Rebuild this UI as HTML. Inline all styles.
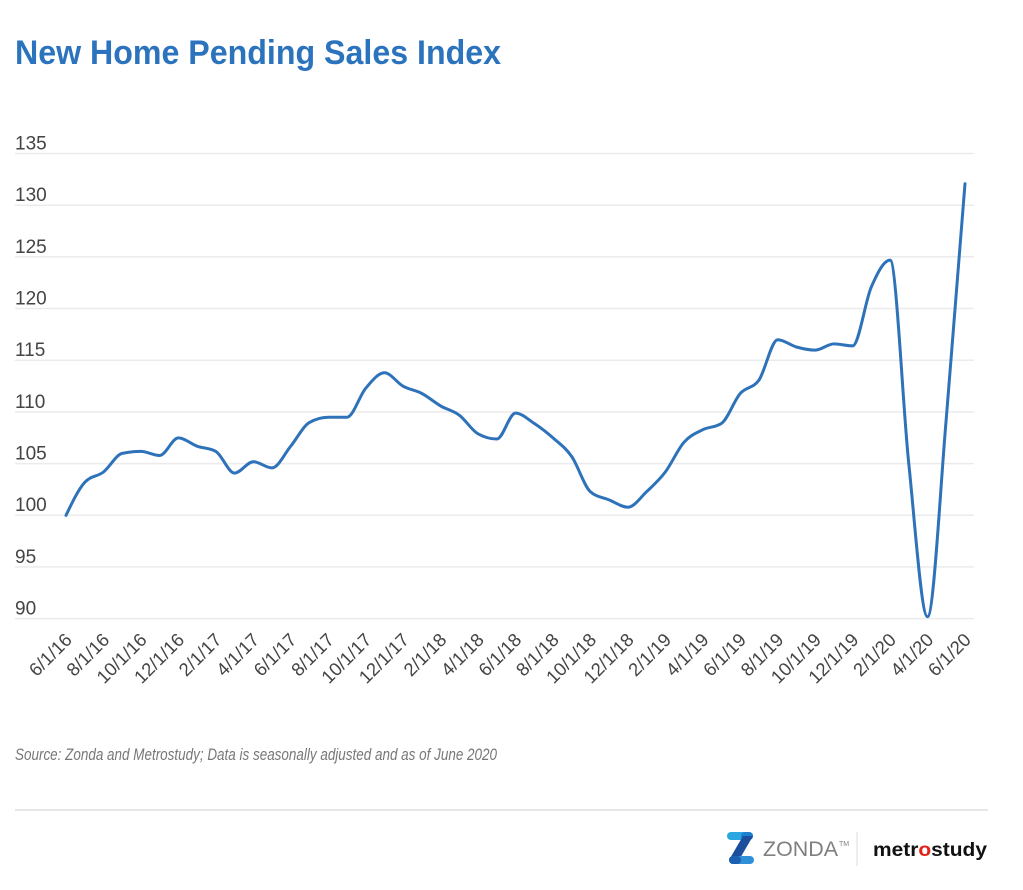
<!DOCTYPE html>
<html>
<head>
<meta charset="utf-8">
<style>
  html, body { margin: 0; padding: 0; background: #ffffff; }
  body { width: 1023px; height: 890px; overflow: hidden; }
  svg { display: block; }
  text { font-family: "Liberation Sans", Arial, sans-serif; }
</style>
</head>
<body>
<svg id="chart" width="1023" height="890" viewBox="0 0 1023 890" xmlns="http://www.w3.org/2000/svg">
  <rect x="0" y="0" width="1023" height="890" fill="#ffffff"/>

  <!-- Title -->
  <text x="15" y="64" font-size="34" font-weight="bold" fill="#2b73bd" textLength="486" lengthAdjust="spacingAndGlyphs">New Home Pending Sales Index</text>

  <!-- Gridlines -->
  <g stroke="#ebebeb" stroke-width="1.5">
    <line x1="15" y1="153.5" x2="974" y2="153.5"/>
    <line x1="15" y1="205.2" x2="974" y2="205.2"/>
    <line x1="15" y1="256.8" x2="974" y2="256.8"/>
    <line x1="15" y1="308.5" x2="974" y2="308.5"/>
    <line x1="15" y1="360.2" x2="974" y2="360.2"/>
    <line x1="15" y1="411.9" x2="974" y2="411.9"/>
    <line x1="15" y1="463.6" x2="974" y2="463.6"/>
    <line x1="15" y1="515.2" x2="974" y2="515.2"/>
    <line x1="15" y1="566.9" x2="974" y2="566.9"/>
    <line x1="15" y1="618.6" x2="974" y2="618.6"/>
  </g>

  <!-- Y labels -->
  <g font-size="19" fill="#444444">
    <text x="15" y="149.5">135</text>
    <text x="15" y="201.2">130</text>
    <text x="15" y="252.8">125</text>
    <text x="15" y="304.5">120</text>
    <text x="15" y="356.2">115</text>
    <text x="15" y="407.9">110</text>
    <text x="15" y="459.6">105</text>
    <text x="15" y="511.2">100</text>
    <text x="15" y="562.9">95</text>
    <text x="15" y="614.6">90</text>
  </g>

  <!-- Data line (fallback polyline; replaced by smooth path via script) -->
  <polyline id="dataLine" fill="none" stroke="#2e72b9" stroke-width="3" stroke-linejoin="round" stroke-linecap="round"
    points="66.0,515.4 84.7,482.4 103.5,472.0 122.2,453.4 140.9,451.4 159.6,455.5 178.4,437.9 197.1,446.2 215.8,451.4 234.6,473.1 253.3,461.7 272.0,467.9 290.7,446.2 309.5,422.4 328.2,417.2 346.9,417.2 365.7,388.3 384.4,372.8 403.1,386.2 421.9,393.5 440.6,405.9 459.3,415.2 478.0,433.8 496.8,439.0 515.5,413.1 534.2,423.4 553.0,437.9 571.7,456.5 590.4,491.7 609.1,499.9 627.9,507.2 646.6,491.7 665.3,472.0 684.1,442.1 702.8,429.7 721.5,423.4 740.2,393.5 759.0,380.0 777.7,339.7 796.4,347.0 815.2,350.1 833.9,343.9 852.6,345.9 871.3,287.0 890.1,260.1 908.8,463.8 927.5,616.7 946.3,418.3 965.0,183.7"/>
  <path id="smoothLine" fill="none" stroke="#2e72b9" stroke-width="3" stroke-linejoin="round" stroke-linecap="round" d=""/>

  <!-- X labels -->
  <g font-size="18.5" fill="#444444" text-anchor="end">
    <text transform="translate(73,641) rotate(-45)">6/1/16</text>
    <text transform="translate(110.5,641) rotate(-45)">8/1/16</text>
    <text transform="translate(147.9,641) rotate(-45)">10/1/16</text>
    <text transform="translate(185.4,641) rotate(-45)">12/1/16</text>
    <text transform="translate(222.8,641) rotate(-45)">2/1/17</text>
    <text transform="translate(260.3,641) rotate(-45)">4/1/17</text>
    <text transform="translate(297.7,641) rotate(-45)">6/1/17</text>
    <text transform="translate(335.2,641) rotate(-45)">8/1/17</text>
    <text transform="translate(372.7,641) rotate(-45)">10/1/17</text>
    <text transform="translate(410.1,641) rotate(-45)">12/1/17</text>
    <text transform="translate(447.6,641) rotate(-45)">2/1/18</text>
    <text transform="translate(485.0,641) rotate(-45)">4/1/18</text>
    <text transform="translate(522.5,641) rotate(-45)">6/1/18</text>
    <text transform="translate(560.0,641) rotate(-45)">8/1/18</text>
    <text transform="translate(597.4,641) rotate(-45)">10/1/18</text>
    <text transform="translate(634.9,641) rotate(-45)">12/1/18</text>
    <text transform="translate(672.3,641) rotate(-45)">2/1/19</text>
    <text transform="translate(709.8,641) rotate(-45)">4/1/19</text>
    <text transform="translate(747.2,641) rotate(-45)">6/1/19</text>
    <text transform="translate(784.7,641) rotate(-45)">8/1/19</text>
    <text transform="translate(822.2,641) rotate(-45)">10/1/19</text>
    <text transform="translate(859.6,641) rotate(-45)">12/1/19</text>
    <text transform="translate(897.1,641) rotate(-45)">2/1/20</text>
    <text transform="translate(934.5,641) rotate(-45)">4/1/20</text>
    <text transform="translate(972.0,641) rotate(-45)">6/1/20</text>
  </g>

  <!-- Source -->
  <text x="15" y="760" font-size="17" font-style="italic" fill="#777777" textLength="482" lengthAdjust="spacingAndGlyphs">Source: Zonda and Metrostudy; Data is seasonally adjusted and as of June 2020</text>

  <!-- Divider -->
  <line x1="15" y1="810" x2="988" y2="810" stroke="#dddddd" stroke-width="1.5"/>

  <!-- Zonda logo -->
  <g>
    <rect x="727" y="832" width="26" height="8" rx="4" fill="#2aa7e0"/>
    <rect x="741" y="832" width="12" height="8" rx="4" fill="#1f7fcf"/>
    <polygon points="743,836 753,836 739,860 729,860" fill="#1b4f9e"/>
    <rect x="729" y="856" width="25" height="8" rx="4" fill="#2f8fd8"/>
    <rect x="729" y="856" width="12" height="8" rx="4" fill="#1d5fb0"/>
    <text x="763" y="856" font-size="21" fill="#808080" textLength="75" lengthAdjust="spacingAndGlyphs">ZONDA</text>
    <text x="839" y="846" font-size="7" fill="#808080">TM</text>
  </g>
  <line x1="857" y1="832" x2="857" y2="866" stroke="#dddddd" stroke-width="1"/>

  <!-- metrostudy logo -->
  <text x="873" y="856" font-size="19" font-weight="bold" fill="#111111" textLength="114" lengthAdjust="spacingAndGlyphs">metr<tspan fill="#e2231a">o</tspan>study</text>
</svg>
<script>
(function(){
  var pl = document.getElementById('dataLine');
  var path = document.getElementById('smoothLine');
  var raw = pl.getAttribute('points').trim().split(/\s+/);
  var x = [], y = [];
  raw.forEach(function(s){ var a = s.split(','); x.push(parseFloat(a[0])); y.push(parseFloat(a[1])); });
  var n = x.length;
  function sign(v){ return v < 0 ? -1 : 1; }
  var t = new Array(n);
  for (var i = 1; i < n - 1; i++) {
    var h0 = x[i] - x[i-1], h1 = x[i+1] - x[i];
    var s0 = (y[i] - y[i-1]) / h0, s1 = (y[i+1] - y[i]) / h1;
    var p = (s0 * h1 + s1 * h0) / (h0 + h1);
    t[i] = (sign(s0) + sign(s1)) * Math.min(Math.abs(s0), Math.abs(s1), 0.5 * Math.abs(p)) || 0;
  }
  var hA = x[1] - x[0], sA = (y[1] - y[0]) / hA;
  t[0] = (3 * sA - t[1]) / 2;
  var hB = x[n-1] - x[n-2], sB = (y[n-1] - y[n-2]) / hB;
  t[n-1] = (3 * sB - t[n-2]) / 2;
  var d = 'M' + x[0] + ',' + y[0];
  for (var k = 0; k < n - 1; k++) {
    var h = (x[k+1] - x[k]) / 3;
    d += ' C' + (x[k] + h).toFixed(2) + ',' + (y[k] + t[k] * h).toFixed(2) + ' ' +
         (x[k+1] - h).toFixed(2) + ',' + (y[k+1] - t[k+1] * h).toFixed(2) + ' ' + x[k+1] + ',' + y[k+1];
  }
  path.setAttribute('d', d);
  pl.setAttribute('stroke', 'none');
})();
</script>
</body>
</html>
